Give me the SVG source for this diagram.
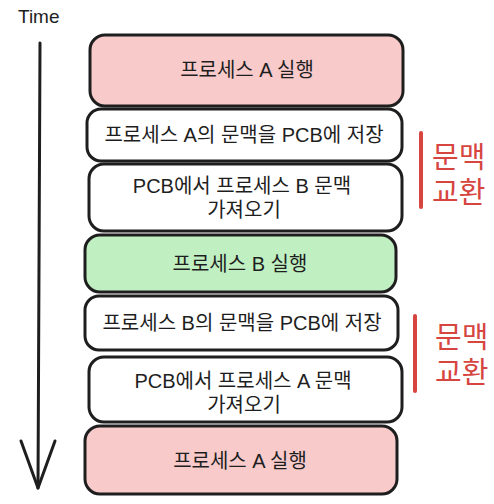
<svg xmlns="http://www.w3.org/2000/svg" width="494" height="504" viewBox="0 0 494 504">
<style>
.box{stroke:#1e1e1e;stroke-width:3;}
.w{fill:#ffffff;}
.pink{fill:#f8caca;}
.green{fill:#c0f0c2;}
.t{font-family:"Liberation Sans","Noto Sans CJK KR",sans-serif;font-size:20px;fill:#1e1e1e;text-anchor:middle;}
.r{font-family:"Liberation Sans","Noto Sans CJK KR",sans-serif;font-size:29px;fill:#d6453f;}
.bar{stroke:#d6453f;stroke-width:4;stroke-linecap:round;fill:none;}
.ax{stroke:#1e1e1e;stroke-width:3;stroke-linecap:round;stroke-linejoin:round;fill:none;}
</style>
<rect width="494" height="504" fill="#ffffff"/>
<text x="18" y="23" font-family="Liberation Sans, sans-serif" font-size="19" fill="#1e1e1e">Time</text>
<g id="connectors">
<path class="ax" d="M40 43 L38 488"/>
<path class="ax" d="M21 441 L38 488 L55 441"/>
</g>
<g id="n1"><rect class="box pink" x="90" y="35" width="313" height="71" rx="15"/><text class="t" x="247" y="77">프로세스 A 실행</text></g>
<g id="n2"><rect class="box w" x="87" y="109" width="315" height="52" rx="14"/><text class="t" x="244" y="142">프로세스 A의 문맥을 PCB에 저장</text></g>
<g id="n3"><rect class="box w" x="89" y="164" width="313" height="67" rx="15"/><text class="t" x="242" y="193">PCB에서 프로세스 B 문맥</text><text class="t" x="244" y="217">가져오기</text></g>
<g id="n4"><rect class="box green" x="85" y="235" width="311" height="57" rx="15"/><text class="t" x="240" y="271">프로세스 B 실행</text></g>
<g id="n5"><rect class="box w" x="85" y="296" width="313" height="54" rx="14"/><text class="t" x="242" y="330">프로세스 B의 문맥을 PCB에 저장</text></g>
<g id="n6"><rect class="box w" x="89" y="357" width="313" height="65" rx="15"/><text class="t" x="243" y="388">PCB에서 프로세스 A 문맥</text><text class="t" x="244" y="412">가져오기</text></g>
<g id="n7"><rect class="box pink" x="85" y="426" width="312" height="68" rx="15"/><text class="t" x="240" y="468">프로세스 A 실행</text></g>
<g id="label1"><path class="bar" d="M421 133 L421 207"/><text class="r" x="432" y="168">문맥</text><text class="r" x="432" y="203">교환</text></g>
<g id="label2"><path class="bar" d="M415 316 L415 391"/><text class="r" x="435" y="348">문맥</text><text class="r" x="435" y="383">교환</text></g>
</svg>
